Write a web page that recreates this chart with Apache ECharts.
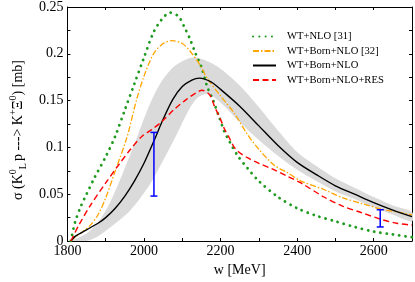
<!DOCTYPE html>
<html>
<head>
<meta charset="utf-8">
<script src="https://cdn.jsdelivr.net/npm/echarts@6/dist/echarts.min.js"></script>
<style>html,body{margin:0;padding:0;background:#fff}#c{width:415px;height:282px}</style>
</head>
<body>
<div id="c"></div>
<script>
// ---- data ----
const seriesNames = ['WT+NLO [31]', 'WT+Born+NLO [32]', 'WT+Born+NLO', 'WT+Born+NLO+RES'];

const wGreen = [1809,1820,1835,1850,1870,1900,1925,1950,1975,2000,2025,2045,2068,2090,2105,2120,2135,2150,2165,2180,2195,2210,2225,2245,2270,2300,2350,2400,2450,2500,2550,2600,2650,2700];
const sGreen = [0,0.020,0.037,0.050,0.067,0.090,0.112,0.140,0.168,0.196,0.223,0.236,0.244,0.240,0.229,0.216,0.200,0.186,0.165,0.151,0.134,0.117,0.105,0.091,0.078,0.064,0.047,0.035,0.027,0.021,0.015,0.010,0.007,0.004];

const wOrange = [1809,1820,1840,1860,1880,1900,1925,1955,1980,2000,2025,2050,2073,2100,2120,2145,2165,2200,2235,2270,2300,2340,2375,2410,2470,2520,2570,2620,2660,2700];
const sOrange = [0,0.004,0.010,0.017,0.028,0.046,0.075,0.110,0.150,0.176,0.200,0.211,0.214,0.211,0.203,0.189,0.174,0.155,0.137,0.114,0.098,0.081,0.073,0.064,0.055,0.046,0.040,0.034,0.031,0.028];

const wBlack = [1809,1820,1850,1880,1900,1925,1950,1975,2000,2025,2050,2075,2100,2125,2145,2175,2200,2250,2300,2350,2400,2450,2500,2550,2600,2650,2700];
const sBlack = [0,0.005,0.012,0.019,0.025,0.035,0.048,0.064,0.083,0.106,0.130,0.151,0.165,0.172,0.174,0.170,0.162,0.144,0.123,0.102,0.084,0.071,0.059,0.050,0.041,0.033,0.026];

const wRed = [1809,1830,1860,1900,1935,1965,1995,2020,2045,2080,2110,2135,2152,2172,2185,2198,2210,2223,2236,2251,2270,2300,2335,2375,2410,2470,2520,2570,2620,2660,2700];
const sRed = [0,0.017,0.038,0.062,0.082,0.098,0.112,0.119,0.127,0.141,0.151,0.158,0.161,0.156,0.143,0.132,0.120,0.110,0.100,0.094,0.089,0.083,0.077,0.069,0.062,0.047,0.037,0.030,0.023,0.019,0.017];

const wBandUp = [1809,1850,1880,1910,1945,1980,2005,2025,2050,2080,2110,2130,2160,2200,2250,2300,2350,2400,2450,2500,2550,2600,2650,2700];
const sBandUp = [0,0.008,0.020,0.040,0.073,0.109,0.136,0.155,0.173,0.187,0.194,0.196,0.193,0.184,0.166,0.143,0.118,0.095,0.080,0.067,0.057,0.047,0.038,0.031];
const wBandLo = [1809,1850,1880,1920,1965,2016,2050,2083,2117,2140,2165,2200,2250,2300,2350,2400,2450,2500,2550,2600,2650,2700];
const sBandLo = [0,0.000,0.005,0.017,0.033,0.061,0.086,0.112,0.140,0.153,0.157,0.148,0.127,0.108,0.091,0.076,0.064,0.053,0.045,0.036,0.028,0.021];

// error bars: [w, low, high]
const errW = [2026, 2617];
const errLo = [0.048, 0.015];
const errHi = [0.116, 0.0334];

const xTicks = [1800, 2000, 2200, 2400, 2600];
const yTicks = [0, 0.05, 0.1, 0.15, 0.2, 0.25];

// ---- chart ----
const zip = (a, b) => a.map((v, i) => [v, b[i]]);
const FONT = '"Liberation Serif", "Times New Roman", serif';

const chart = echarts.init(document.getElementById('c'), null, {renderer: 'canvas'});

const axisCommon = {
  axisLine: {show: true, onZero: false, lineStyle: {color: '#000', width: 1}},
  axisTick: {show: true, inside: true, length: 3, lineStyle: {color: '#000', width: 1}},
  splitLine: {show: false}
};

const option = {
  animation: false,
  backgroundColor: '#fff',
  textStyle: {fontFamily: FONT},
  grid: {left: 56, right: 3, top: 6, bottom: 33, containLabel: false},
  legend: {
    orient: 'vertical', left: 247, top: 26,
    itemWidth: 23, itemHeight: 10, itemGap: 3.5,
    itemStyle: {opacity: 0},
    textStyle: {fontFamily: FONT, fontSize: 10.6, color: '#000', padding: [0, 0, 0, 6]},
    data: seriesNames
  },
  xAxis: [
    Object.assign({}, axisCommon, {
      type: 'value', min: 1800, max: 2700, interval: 100, position: 'bottom',
      name: 'w [MeV]', nameLocation: 'middle', nameGap: 22,
      nameTextStyle: {fontFamily: FONT, fontSize: 14, color: '#000'},
      axisLabel: {fontFamily: FONT, fontSize: 14, color: '#000', margin: 3,
        formatter: v => xTicks.includes(v) ? String(v) : ''}
    }),
    Object.assign({}, axisCommon, {
      type: 'value', min: 1800, max: 2700, interval: 100, position: 'top',
      axisLabel: {show: false}
    })
  ],
  yAxis: [
    Object.assign({}, axisCommon, {
      type: 'value', min: 0, max: 0.25, interval: 0.025, position: 'left',
      name: '{n|σ (K}{sup|0}{sub|L}{n|p ---> K}{sup|+}{n|Ξ}{sup|0}{n|) [mb]}',
      nameLocation: 'middle', nameRotate: 90, nameGap: 34,
      nameTextStyle: {
        fontFamily: FONT, fontSize: 14, color: '#000', padding: [0, 12, 0, 0],
        rich: {
          n: {fontFamily: FONT, fontSize: 14, color: '#000', lineHeight: 20, verticalAlign: 'middle'},
          sup: {fontFamily: FONT, fontSize: 10, color: '#000', lineHeight: 20, verticalAlign: 'top'},
          sub: {fontFamily: FONT, fontSize: 10, color: '#000', lineHeight: 20, verticalAlign: 'bottom', padding: [0, 2, 0, 0]}
        }
      },
      axisLabel: {fontFamily: FONT, fontSize: 14, color: '#000', margin: 4,
        formatter: v => yTicks.some(t => Math.abs(t - v) < 1e-9) ? String(parseFloat(v.toFixed(3))) : ''}
    }),
    Object.assign({}, axisCommon, {
      type: 'value', min: 0, max: 0.25, interval: 0.025, position: 'right',
      axisLabel: {show: false}
    })
  ],
  series: [
    {
      type: 'custom', name: 'band', silent: true, z: 1,
      data: [0],
      renderItem: function (params, api) {
        const pts = [];
        for (let i = 0; i < wBandUp.length; i++) pts.push(api.coord([wBandUp[i], sBandUp[i]]));
        for (let i = wBandLo.length - 1; i >= 0; i--) pts.push(api.coord([wBandLo[i], sBandLo[i]]));
        return {type: 'polygon', shape: {points: pts, smooth: 0.3}, style: {fill: '#dadada', stroke: null}};
      },
      clip: true
    },
    {
      type: 'line', name: seriesNames[0], data: zip(wGreen, sGreen), smooth: 0.3, symbol: 'none', z: 3,
      itemStyle: {color: '#1e9a1e'},
      lineStyle: {color: '#1e9a1e', width: 2.8, type: [0.1, 6.2], cap: 'round'}
    },
    {
      type: 'line', name: seriesNames[1], data: zip(wOrange, sOrange), smooth: 0.3, symbol: 'none', z: 3,
      itemStyle: {color: '#ffa500'},
      lineStyle: {color: '#ffa500', width: 1.3, type: [6, 2, 1.5, 2]}
    },
    {
      type: 'line', name: seriesNames[2], data: zip(wBlack, sBlack), smooth: 0.3, symbol: 'none', z: 4,
      itemStyle: {color: '#000'},
      lineStyle: {color: '#000', width: 1.4, type: 'solid'}
    },
    {
      type: 'line', name: seriesNames[3], data: zip(wRed, sRed), smooth: 0.3, symbol: 'none', z: 4,
      itemStyle: {color: '#ff0000'},
      lineStyle: {color: '#ff0000', width: 1.4, type: [6, 3.5]}
    },
    {
      type: 'custom', name: 'errors', z: 5, silent: true,
      data: errW.map((w, i) => [w, errLo[i], errHi[i]]),
      renderItem: function (params, api) {
        const lo = api.coord([api.value(0), api.value(1)]);
        const hi = api.coord([api.value(0), api.value(2)]);
        const hw = 3.5;
        const st = {stroke: '#0000ff', lineWidth: 1.5};
        return {type: 'group', children: [
          {type: 'line', shape: {x1: lo[0], y1: lo[1], x2: hi[0], y2: hi[1]}, style: st},
          {type: 'line', shape: {x1: lo[0] - hw, y1: lo[1], x2: lo[0] + hw, y2: lo[1]}, style: st},
          {type: 'line', shape: {x1: hi[0] - hw, y1: hi[1], x2: hi[0] + hw, y2: hi[1]}, style: st}
        ]};
      }
    }
  ]
};
chart.setOption(option);
</script>
</body>
</html>
